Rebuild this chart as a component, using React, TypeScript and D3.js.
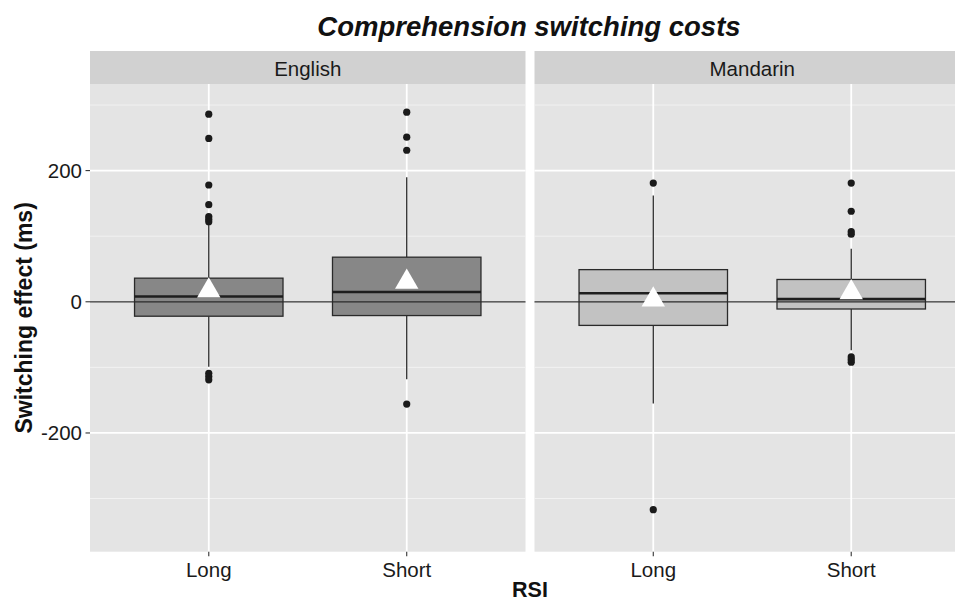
import React, { useEffect, useRef } from "react";
import * as d3 from "d3";

// groups in order: English-Long, English-Short, Mandarin-Long, Mandarin-Short
const languages = ["English", "Mandarin"];
const rsiLevels = ["Long", "Short"];
const groupLanguage = ["English", "English", "Mandarin", "Mandarin"];
const groupRsi = ["Long", "Short", "Long", "Short"];

const q1Values = [-22, -21, -36, -11];
const medianValues = [8, 15, 13, 4];
const q3Values = [36, 68, 49, 34];
const lowerWhisker = [-99, -118, -155, -74];
const upperWhisker = [117, 190, 162, 81];
const meanValues = [17, 30, 3, 14];
const outlierValues = [
  [286, 249, 178, 148, 130, 126, 122, -109, -114, -119],
  [289, 251, 231, -156],
  [181, -317],
  [181, 138, 107, 103, -84, -88, -92],
];

const yTicks = [-200, 0, 200];
const yMinorTicks = [-300, -100, 100, 300];

const FONT = "'Liberation Sans', Arial, Helvetica, sans-serif";

const App = () => {
  const svgRef = useRef<SVGSVGElement>(null);

  useEffect(() => {
    document.body.style.margin = "0";
    const svg = d3.select(svgRef.current);
    svg.selectAll("*").remove();

    const panelTop = 84;
    const panelBottom = 551.7;
    const stripTop = 51;
    const panelLeft = 90;
    const panelWidth = 435.5;
    const panelGap = 9;

    const facetX = d3.scaleOrdinal<string, number>()
      .domain(languages)
      .range(languages.map((_, i) => panelLeft + i * (panelWidth + panelGap)));

    const x = d3.scalePoint<string>()
      .domain(rsiLevels)
      .range([0, panelWidth])
      .padding(0.6);
    const boxWidth = x.step() * 0.75;

    const y = d3.scaleLinear()
      .domain([-381, 332])
      .range([panelBottom, panelTop]);

    // title
    svg.append("text")
      .attr("x", 529)
      .attr("y", 36)
      .attr("text-anchor", "middle")
      .attr("font-family", FONT)
      .attr("font-size", 27.5)
      .attr("font-weight", "bold")
      .attr("font-style", "italic")
      .attr("fill", "#111")
      .text("Comprehension switching costs");

    languages.forEach((lang) => {
      const g = svg.append("g").attr("transform", `translate(${facetX(lang)},0)`);

      // strip
      g.append("rect")
        .attr("x", 0).attr("y", stripTop)
        .attr("width", panelWidth).attr("height", panelTop - stripTop)
        .attr("fill", "#d1d1d1");
      g.append("text")
        .attr("x", panelWidth / 2)
        .attr("y", 76)
        .attr("text-anchor", "middle")
        .attr("font-family", FONT)
        .attr("font-size", 20.5)
        .attr("fill", "#1a1a1a")
        .text(lang);

      // panel background
      g.append("rect")
        .attr("x", 0).attr("y", panelTop)
        .attr("width", panelWidth).attr("height", panelBottom - panelTop)
        .attr("fill", "#e4e4e4");

      // grid
      g.selectAll(".minor").data(yMinorTicks).join("line")
        .attr("x1", 0).attr("x2", panelWidth)
        .attr("y1", (d) => y(d)).attr("y2", (d) => y(d))
        .attr("stroke", "#f4f4f4").attr("stroke-width", 0.9);
      g.selectAll(".major").data(yTicks).join("line")
        .attr("x1", 0).attr("x2", panelWidth)
        .attr("y1", (d) => y(d)).attr("y2", (d) => y(d))
        .attr("stroke", "#fff").attr("stroke-width", 1.8);
      g.selectAll(".vgrid").data(rsiLevels).join("line")
        .attr("x1", (d) => x(d)!).attr("x2", (d) => x(d)!)
        .attr("y1", panelTop).attr("y2", panelBottom)
        .attr("stroke", "#fff").attr("stroke-width", 1.8);

      // x ticks + labels
      g.selectAll(".xtick").data(rsiLevels).join("line")
        .attr("x1", (d) => x(d)!).attr("x2", (d) => x(d)!)
        .attr("y1", panelBottom).attr("y2", panelBottom + 4.5)
        .attr("stroke", "#333").attr("stroke-width", 1.1);
      g.selectAll(".xlab").data(rsiLevels).join("text")
        .attr("x", (d) => x(d)!)
        .attr("y", 577)
        .attr("text-anchor", "middle")
        .attr("font-family", FONT)
        .attr("font-size", 20.5)
        .attr("fill", "#1a1a1a")
        .text((d) => d);

      // boxplots
      groupLanguage.forEach((gl, i) => {
        if (gl !== lang) return;
        const cx = x(groupRsi[i])!;
        const fill = lang === "English" ? "#878787" : "#c2c2c2";

        g.append("line")
          .attr("x1", cx).attr("x2", cx)
          .attr("y1", y(upperWhisker[i])).attr("y2", y(q3Values[i]))
          .attr("stroke", "#2a2a2a").attr("stroke-width", 1.3);
        g.append("line")
          .attr("x1", cx).attr("x2", cx)
          .attr("y1", y(q1Values[i])).attr("y2", y(lowerWhisker[i]))
          .attr("stroke", "#2a2a2a").attr("stroke-width", 1.3);

        g.append("rect")
          .attr("x", cx - boxWidth / 2)
          .attr("y", y(q3Values[i]))
          .attr("width", boxWidth)
          .attr("height", y(q1Values[i]) - y(q3Values[i]))
          .attr("fill", fill)
          .attr("stroke", "#2a2a2a")
          .attr("stroke-width", 1.3);
        g.append("line")
          .attr("x1", cx - boxWidth / 2).attr("x2", cx + boxWidth / 2)
          .attr("y1", y(medianValues[i])).attr("y2", y(medianValues[i]))
          .attr("stroke", "#1e1e1e").attr("stroke-width", 2.6);

        g.selectAll(null).data(outlierValues[i]).join("circle")
          .attr("cx", cx)
          .attr("cy", (d) => y(d))
          .attr("r", 3.6)
          .attr("fill", "#1a1a1a");
      });

      // zero reference line
      g.append("line")
        .attr("x1", 0).attr("x2", panelWidth)
        .attr("y1", y(0)).attr("y2", y(0))
        .attr("stroke", "#2a2a2a").attr("stroke-width", 1.2);

      // mean triangles
      groupLanguage.forEach((gl, i) => {
        if (gl !== lang) return;
        const cx = x(groupRsi[i])!;
        const cy = y(meanValues[i]);
        const r = 13.5;
        const tri = d3.line()([
          [cx, cy - r],
          [cx + r * 0.866, cy + r / 2],
          [cx - r * 0.866, cy + r / 2],
        ]) + "Z";
        g.append("path").attr("d", tri).attr("fill", "#fff");
      });
    });

    // y axis
    const yAxis = svg.append("g");
    yAxis.selectAll("line").data(yTicks).join("line")
      .attr("x1", panelLeft - 4.5).attr("x2", panelLeft)
      .attr("y1", (d) => y(d)).attr("y2", (d) => y(d))
      .attr("stroke", "#333").attr("stroke-width", 1.1);
    yAxis.selectAll("text").data(yTicks).join("text")
      .attr("x", panelLeft - 8)
      .attr("y", (d) => y(d))
      .attr("dy", "0.35em")
      .attr("text-anchor", "end")
      .attr("font-family", FONT)
      .attr("font-size", 20.5)
      .attr("fill", "#1a1a1a")
      .text((d) => d3.format("d")(d).replace("−", "-"));

    svg.append("text")
      .attr("transform", `translate(32,${(panelTop + panelBottom) / 2}) rotate(-90)`)
      .attr("text-anchor", "middle")
      .attr("font-family", FONT)
      .attr("font-size", 23)
      .attr("font-weight", "bold")
      .attr("fill", "#111")
      .text("Switching effect (ms)");

    svg.append("text")
      .attr("x", 530)
      .attr("y", 597)
      .attr("text-anchor", "middle")
      .attr("font-family", FONT)
      .attr("font-size", 21.5)
      .attr("font-weight", "bold")
      .attr("fill", "#111")
      .text("RSI");
  }, []);

  return <svg ref={svgRef} width="955" height="603" style={{ display: "block" }}></svg>;
};

export default App;
